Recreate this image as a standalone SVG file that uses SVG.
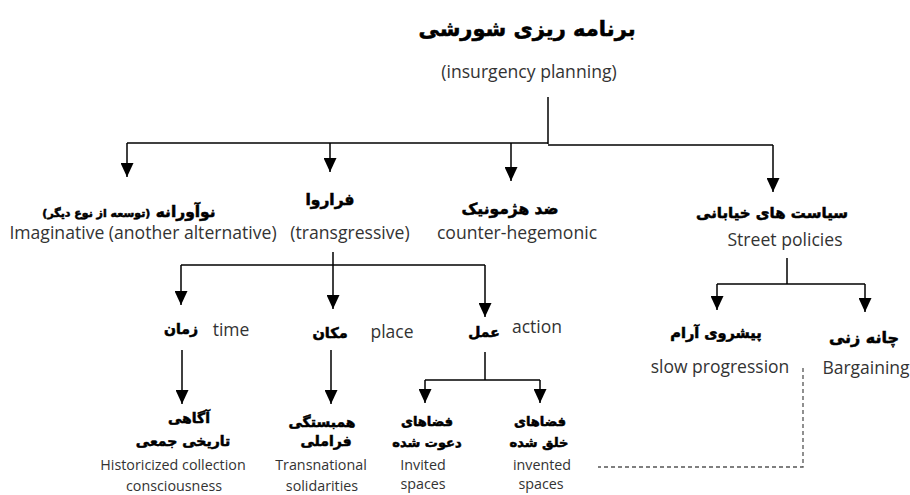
<svg xmlns="http://www.w3.org/2000/svg" width="910" height="495" viewBox="0 0 910 495">
<defs>
<marker id="ah" viewBox="0 0 14 13" refX="14" refY="6.5" markerWidth="14" markerHeight="13" markerUnits="userSpaceOnUse" orient="auto">
<path d="M0,0 L14,6.5 L0,13 z" fill="#000"/>
</marker>
<style>
.fa{font-family:"DejaVu Sans",sans-serif;font-weight:bold;fill:#000;stroke:#000;stroke-width:0.55;text-anchor:middle}
.en{font-family:"Open Sans","Liberation Sans",sans-serif;fill:#333;text-anchor:middle}
.ln{fill:none;stroke:#000;stroke-width:1.5}
.ar{fill:none;stroke:#000;stroke-width:1.5;marker-end:url(#ah)}
.dash{fill:none;stroke:#555;stroke-width:1.3;stroke-dasharray:4 3}
</style>
</defs>
<rect width="910" height="495" fill="#fff"/>

<g id="connectors">
<path class="ln" d="M548,97 V144"/>
<path class="ln" d="M127,143 H548"/>
<path class="ln" d="M548,145 H773"/>
<path class="ar" d="M127,143 V177"/>
<path class="ar" d="M330,143 V172"/>
<path class="ar" d="M511,143 V181"/>
<path class="ar" d="M773,145 V192"/>
<path class="ar" d="M333,252 V309"/>
<path class="ln" d="M181,265 H485"/>
<path class="ar" d="M181,265 V305"/>
<path class="ar" d="M485,265 V317"/>
<path class="ar" d="M182,350 V404"/>
<path class="ar" d="M331,350 V404"/>
<path class="ln" d="M485,352 V380"/>
<path class="ln" d="M425,380 H540"/>
<path class="ar" d="M425,380 V403"/>
<path class="ar" d="M540,380 V403"/>
<path class="ln" d="M787,258 V284"/>
<path class="ln" d="M717,284 H865"/>
<path class="ar" d="M717,284 V310"/>
<path class="ar" d="M865,284 V312"/>
<path class="dash" d="M803,368 V467 H598"/>
</g>

<g id="root">
<text class="fa" x="527" y="36" font-size="21" stroke-width="0.8" direction="rtl">برنامه ریزی شورشی</text>
<text class="en" x="529" y="78" font-size="17.6">(insurgency planning)</text>
</g>

<g id="imaginative">
<text class="fa" x="129" y="217" font-size="15.5" direction="rtl">نوآورانه <tspan font-size="11">(توسعه از نوع دیگر)</tspan></text>
<text class="en" x="143" y="239" font-size="17.6">Imaginative (another alternative)</text>
</g>

<g id="transgressive">
<text class="fa" x="330" y="205" font-size="15.5" direction="rtl">فراروا</text>
<text class="en" x="350" y="239" font-size="17.6">(transgressive)</text>
</g>

<g id="counter-hegemonic">
<text class="fa" x="510" y="214" font-size="15.5" direction="rtl">ضد هژمونیک</text>
<text class="en" x="517" y="239" font-size="17.6">counter-hegemonic</text>
</g>

<g id="street-policies">
<text class="fa" x="772" y="218" font-size="15" direction="rtl">سیاست های خیابانی</text>
<text class="en" x="785" y="246" font-size="17.6">Street policies</text>
</g>

<g id="time">
<text class="fa" x="181" y="334" font-size="14" direction="rtl">زمان</text>
<text class="en" x="231" y="336" font-size="17.5">time</text>
</g>

<g id="place">
<text class="fa" x="330" y="338" font-size="14.5" direction="rtl">مکان</text>
<text class="en" x="392" y="338" font-size="17.5">place</text>
</g>

<g id="action">
<text class="fa" x="484" y="337" font-size="14" direction="rtl">عمل</text>
<text class="en" x="537" y="333" font-size="17.5">action</text>
</g>

<g id="slow-progression">
<text class="fa" x="716" y="338" font-size="14.5" direction="rtl">پیشروی آرام</text>
<text class="en" x="720" y="373" font-size="17.5">slow progression</text>
</g>

<g id="bargaining">
<text class="fa" x="864" y="343" font-size="16" direction="rtl">چانه زنی</text>
<text class="en" x="866" y="374" font-size="17.5">Bargaining</text>
</g>

<g id="historicized">
<text class="fa" x="189" y="423" font-size="14" direction="rtl">آگاهی</text>
<text class="fa" x="183" y="446" font-size="14" direction="rtl">تاریخی جمعی</text>
<text class="en" x="173" y="470" font-size="14.3">Historicized collection</text>
<text class="en" x="174" y="491" font-size="14.3">consciousness</text>
</g>

<g id="transnational">
<text class="fa" x="322" y="427" font-size="14" direction="rtl">همبستگی</text>
<text class="fa" x="326" y="446" font-size="14" direction="rtl">فراملی</text>
<text class="en" x="321" y="470" font-size="14.3">Transnational</text>
<text class="en" x="322" y="491" font-size="14.3">solidarities</text>
</g>

<g id="invited">
<text class="fa" x="427" y="426" font-size="13" direction="rtl">فضاهای</text>
<text class="fa" x="427" y="447" font-size="13" direction="rtl">دعوت شده</text>
<text class="en" x="423" y="470" font-size="14.3">Invited</text>
<text class="en" x="423" y="489" font-size="14.3">spaces</text>
</g>

<g id="invented">
<text class="fa" x="540" y="426" font-size="13" direction="rtl">فضاهای</text>
<text class="fa" x="539" y="447" font-size="13" direction="rtl">خلق شده</text>
<text class="en" x="542" y="470" font-size="14.3">invented</text>
<text class="en" x="541" y="489" font-size="14.3">spaces</text>
</g>
</svg>
